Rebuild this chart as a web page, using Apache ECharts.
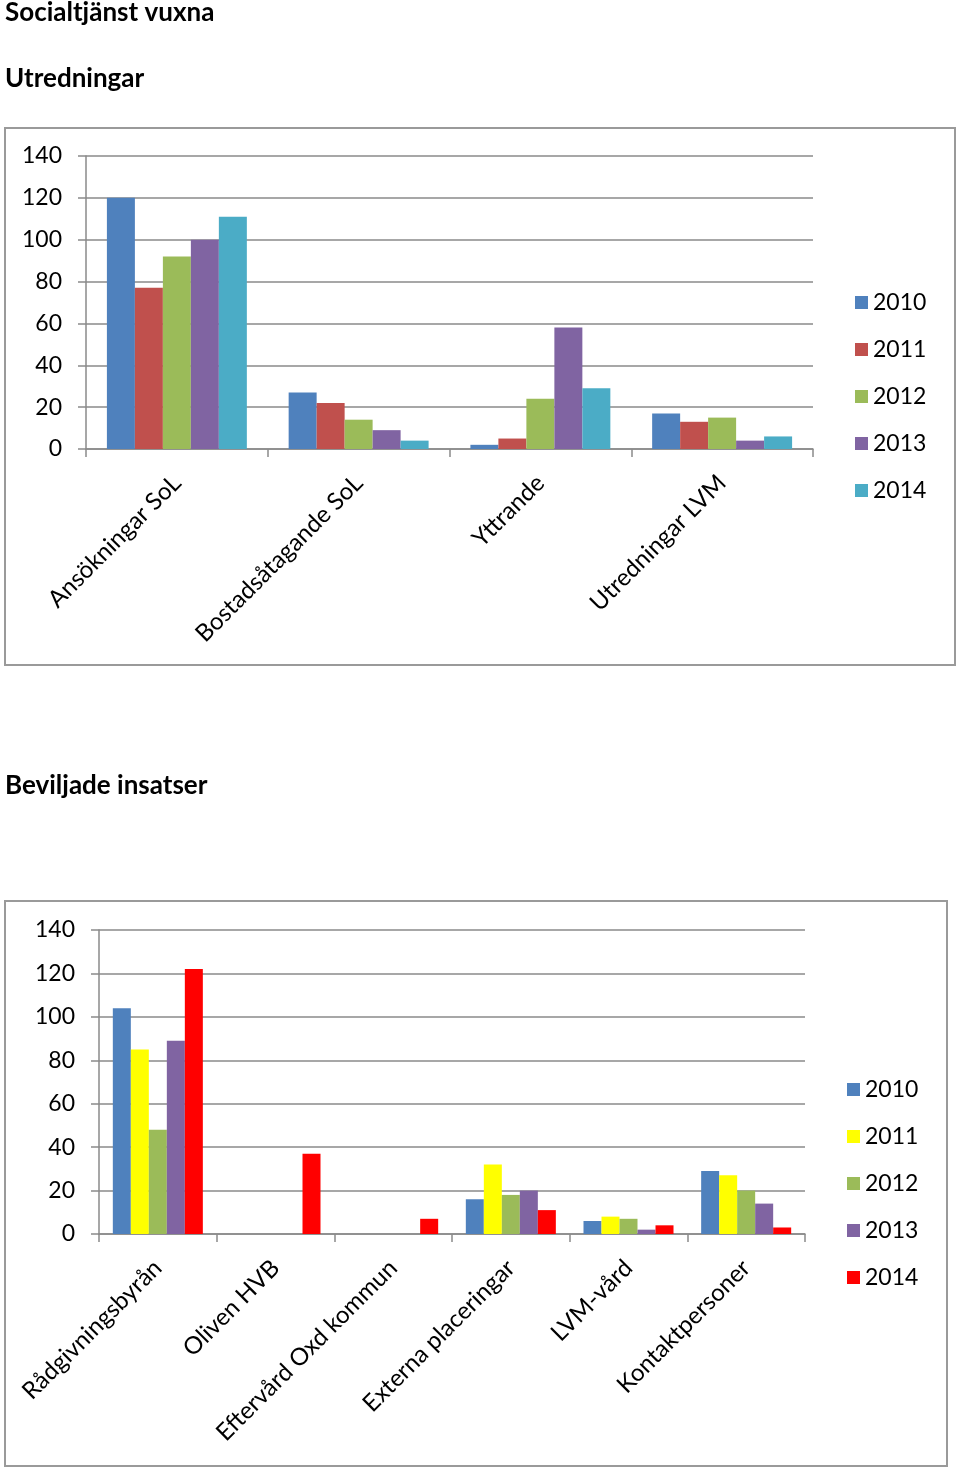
<!DOCTYPE html>
<html>
<head>
<meta charset="utf-8">
<script src="https://cdn.jsdelivr.net/npm/echarts@6/dist/echarts.min.js"></script>
<style>
html,body{margin:0;padding:0;background:#fff;}
#c{width:960px;height:1468px;}
</style>
</head>
<body>
<div id="c"></div>
<script>
// ---- Data ----
const years = ['2010', '2011', '2012', '2013', '2014'];
const yTicks = [0, 20, 40, 60, 80, 100, 120, 140];

const cats1 = ['Ansökningar SoL', 'Bostadsåtagande SoL', 'Yttrande', 'Utredningar LVM'];
const s1_2010 = [120, 27, 2, 17];
const s1_2011 = [77, 22, 5, 13];
const s1_2012 = [92, 14, 24, 15];
const s1_2013 = [100, 9, 58, 4];
const s1_2014 = [111, 4, 29, 6];

const cats2 = ['Rådgivningsbyrån', 'Oliven HVB', 'Eftervård Oxd kommun', 'Externa placeringar', 'LVM-vård', 'Kontaktpersoner'];
const s2_2010 = [104, 0, 0, 16, 6, 29];
const s2_2011 = [85, 0, 0, 32, 8, 27];
const s2_2012 = [48, 0, 0, 18, 7, 20];
const s2_2013 = [89, 0, 0, 20, 2, 14];
const s2_2014 = [122, 37, 7, 11, 4, 3];

const colors1 = ['#4F81BD', '#C0504D', '#9BBB59', '#8064A2', '#4BACC6'];
const colors2 = ['#4F81BD', '#FFFF00', '#9BBB59', '#8064A2', '#FF0000'];

// ---- Chart ----
const FONT = 'Lato';
const axisGray = '#8a8a8a';
const chart = echarts.init(document.getElementById('c'));

function yAxis(gi, margin) {
  return {
    type: 'value', gridIndex: gi, min: yTicks[0], max: yTicks[yTicks.length - 1], interval: 20,
    axisLine: { show: true, lineStyle: { color: axisGray, width: 1.5 } },
    axisTick: { show: true, length: 8, lineStyle: { color: axisGray, width: 1.5 } },
    splitLine: { show: true, lineStyle: { color: axisGray, width: 1.5 } },
    axisLabel: { color: '#000', fontFamily: FONT, fontSize: 23, margin: margin }
  };
}
function xAxis(gi, cats) {
  return {
    type: 'category', gridIndex: gi, data: cats,
    axisLine: { show: true, lineStyle: { color: axisGray, width: 1.5 } },
    axisTick: { show: true, length: 8, alignWithLabel: false, lineStyle: { color: axisGray, width: 1.5 } },
    axisLabel: { color: '#000', fontFamily: FONT, fontSize: 24, rotate: 45, margin: 30, interval: 0 }
  };
}
const sets1 = [s1_2010, s1_2011, s1_2012, s1_2013, s1_2014];
const sets2 = [s2_2010, s2_2011, s2_2012, s2_2013, s2_2014];
const series = [];
years.forEach((y, i) => {
  series.push({
    name: y, type: 'bar', xAxisIndex: 0, yAxisIndex: 0, data: sets1[i],
    itemStyle: { color: colors1[i] }, barGap: '0%', barCategoryGap: '23%', animation: false
  });
});
years.forEach((y, i) => {
  series.push({
    name: y + ' ', type: 'bar', xAxisIndex: 1, yAxisIndex: 1,
    data: sets2[i].map(v => v === 0 ? null : v),
    itemStyle: { color: colors2[i] }, barGap: '0%', barCategoryGap: '23.5%', animation: false
  });
});

function legend(left, top, names) {
  return {
    orient: 'vertical', left: left, top: top, data: names, icon: 'rect',
    itemWidth: 13, itemHeight: 13, itemGap: 24,
    textStyle: { color: '#000', fontFamily: FONT, fontSize: 23, lineHeight: 23, padding: [0, 0, 0, 0] },
    selectedMode: false
  };
}

chart.setOption({
  animation: false,
  color: colors1,
  grid: [
    { left: 86, right: 147, top: 156, bottom: 1468 - 449 },
    { left: 99, right: 155, top: 930, bottom: 1468 - 1234 }
  ],
  xAxis: [xAxis(0, cats1), xAxis(1, cats2)],
  yAxis: [yAxis(0, 24), yAxis(1, 24)],
  legend: [
    legend(850, 286, years),
    legend(842, 1073, years.map(y => y + ' '))
  ],
  graphic: [
    { type: 'rect', shape: { x: 5, y: 128, width: 950, height: 537 }, style: { fill: 'none', stroke: '#9a9a9a', lineWidth: 2 }, z: -1 },
    { type: 'rect', shape: { x: 5, y: 901, width: 942, height: 565 }, style: { fill: 'none', stroke: '#9a9a9a', lineWidth: 2 }, z: -1 },
    { type: 'text', style: { x: 5, y: 13, text: 'Socialtjänst vuxna', font: 'bold 26px Lato', fill: '#000', verticalAlign: 'middle' } },
    { type: 'text', style: { x: 5, y: 79, text: 'Utredningar', font: 'bold 26px Lato', fill: '#000', verticalAlign: 'middle' } },
    { type: 'text', style: { x: 5, y: 786, text: 'Beviljade insatser', font: 'bold 26px Lato', fill: '#000', verticalAlign: 'middle' } }
  ],
  series: series
});
</script>
</body>
</html>
